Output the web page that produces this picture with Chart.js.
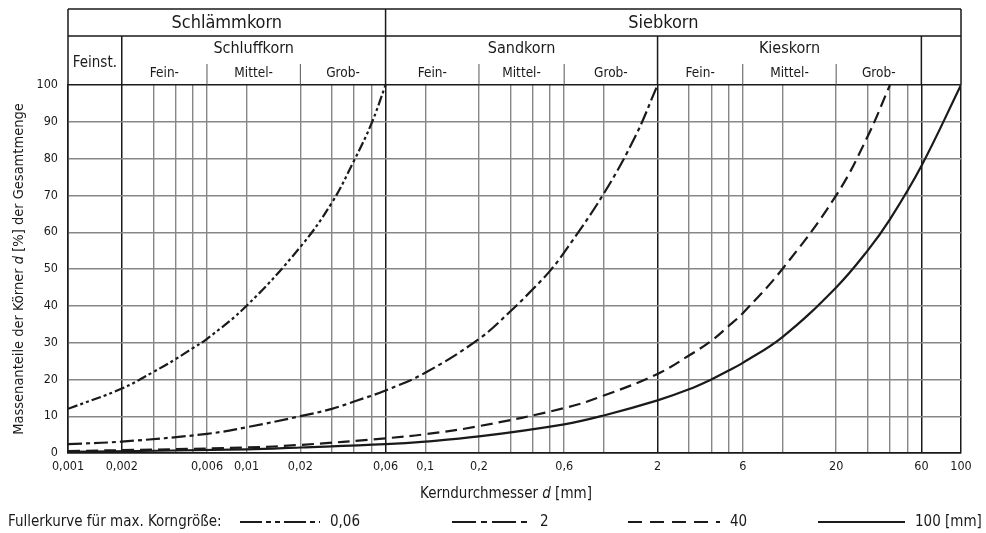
<!DOCTYPE html>
<html lang="de">
<head>
<meta charset="utf-8">
<script src="https://cdn.jsdelivr.net/npm/chart.js@4.4.1/dist/chart.umd.min.js"></script>
<style>
  html, body { margin: 0; padding: 0; background: #fff; }
</style>
</head>
<body>
<canvas id="sieve-chart" width="986" height="533"></canvas>
<script>
// Fullerkurven, Siebdurchgang in % je Korndurchmesser (mm)
const sizes006 = [0.001, 0.002, 0.003, 0.004, 0.005, 0.006, 0.01, 0.02, 0.03, 0.04, 0.05, 0.06];
const fuller006 = [12, 17.5, 22, 25.5, 28.5, 31, 40, 56, 68, 79.5, 89.5, 100];

const sizes2 = [0.001, 0.002, 0.006, 0.01, 0.02, 0.03, 0.04, 0.06, 0.1, 0.2, 0.3, 0.4, 0.5, 0.6, 1, 1.5, 2];
const fuller2 = [2.4, 3.1, 5.2, 7, 10, 12, 14, 17, 21.8, 31, 38.5, 44.5, 49.5, 54.5, 70.5, 86, 100];

const sizes40 = [0.001, 0.01, 0.02, 0.06, 0.1, 0.2, 0.6, 1, 2, 3, 4, 5, 6, 10, 20, 30, 40];
const fuller40 = [0.5, 1.5, 2.2, 4, 5.1, 7.3, 12.2, 15.6, 21.5, 26.5, 30.5, 34.5, 38, 50, 70, 86, 100];

const sizes100 = [0.001, 0.01, 0.02, 0.06, 0.1, 0.2, 0.6, 1, 2, 3, 4, 5, 6, 10, 20, 30, 40, 60, 100];
const fuller100 = [0.3, 1, 1.5, 2.4, 3.1, 4.5, 7.8, 10.2, 14.3, 17.3, 20, 22.4, 24.5, 31.5, 45, 55, 63.5, 78, 100];

// Gitterlinien und Beschriftung der x-Achse
const xGrid = [0.001, 0.002, 0.003, 0.004, 0.005, 0.006, 0.01, 0.02, 0.03, 0.04, 0.05, 0.06,
  0.1, 0.2, 0.3, 0.4, 0.5, 0.6, 1, 2, 3, 4, 5, 6, 10, 20, 30, 40, 50, 60, 100];
const xLabels = [0.001, 0.002, 0.006, 0.01, 0.02, 0.06, 0.1, 0.2, 0.6, 2, 6, 20, 60, 100];
const xMajor = [0.001, 0.002, 0.06, 2, 60, 100];

// Kopfzeile: Kornklassen mit Grenzen
const groups = [
  { name: 'Schlämmkorn', from: 0.001, to: 0.06 },
  { name: 'Siebkorn', from: 0.06, to: 100 }
];
const classes = [
  { name: 'Schluffkorn', from: 0.002, to: 0.06, sub: [0.006, 0.02] },
  { name: 'Sandkorn', from: 0.06, to: 2, sub: [0.2, 0.6] },
  { name: 'Kieskorn', from: 2, to: 60, sub: [6, 20] }
];
const subNames = ['Fein-', 'Mittel-', 'Grob-'];

const legendItems = ['0,06', '2', '40', '100 [mm]'];
const dashes = [[10, 3, 3, 3, 3, 3], [14, 4, 4, 4], [12, 6], []];

const FONT = '"DejaVu Sans Condensed", "Liberation Sans Narrow", "Noto Sans", sans-serif';
const INK = '#1a1a1a';
const GRID = '#878787';

const fmt = v => String(v).replace('.', ',');
const pts = (xs, ys) => xs.map((x, i) => ({ x: x, y: ys[i] }));

const curve = (xs, ys, dash) => ({
  data: pts(xs, ys),
  borderColor: INK,
  borderWidth: 2.2,
  borderDash: dash,
  pointRadius: 0,
  fill: false,
  tension: 0.4
});

// schreibt Text aus Teilen mit eigenem Stil (fuer das kursive d)
function drawParts(ctx, parts, size, cx, cy) {
  let w = 0;
  parts.forEach(p => { ctx.font = p[1] + size + 'px ' + FONT; w += ctx.measureText(p[0]).width; });
  let x = cx - w / 2;
  parts.forEach(p => { ctx.font = p[1] + size + 'px ' + FONT; ctx.fillText(p[0], x, cy); x += ctx.measureText(p[0]).width; });
}

const framePlugin = {
  id: 'frame',
  afterDraw(chart) {
    const { ctx, chartArea: a } = chart;
    const xs = chart.scales.x;
    const px = v => xs.getPixelForValue(v);
    const top = 9, mid = 36, bot = a.top;

    ctx.save();
    ctx.strokeStyle = INK;
    ctx.lineWidth = 1.5;
    ctx.beginPath();
    ctx.moveTo(a.left, top); ctx.lineTo(a.right, top);
    ctx.moveTo(a.left, mid); ctx.lineTo(a.right, mid);
    ctx.moveTo(a.left, top); ctx.lineTo(a.left, bot);
    ctx.moveTo(a.right, top); ctx.lineTo(a.right, bot);
    ctx.moveTo(px(0.06), top); ctx.lineTo(px(0.06), bot);
    [0.002, 2, 60].forEach(v => { ctx.moveTo(px(v), mid); ctx.lineTo(px(v), bot); });
    ctx.stroke();

    // kurze Trennstriche zwischen Fein-/Mittel-/Grob-
    ctx.lineWidth = 1;
    ctx.strokeStyle = '#555';
    ctx.beginPath();
    classes.forEach(c => c.sub.forEach(v => { ctx.moveTo(px(v), 64); ctx.lineTo(px(v), bot); }));
    ctx.stroke();

    ctx.fillStyle = INK;
    ctx.textAlign = 'center';
    ctx.textBaseline = 'middle';
    ctx.font = '18px ' + FONT;
    ctx.fillText(groups[0].name, (px(groups[0].from) + px(groups[0].to)) / 2, 23);
    ctx.fillText(groups[1].name, (px(groups[1].from) + px(groups[1].to)) / 2 - 10, 23);

    ctx.font = '15px ' + FONT;
    ctx.fillText('Feinst.', (px(0.001) + px(0.002)) / 2, 63);
    classes.forEach(c => {
      ctx.font = '16px ' + FONT;
      ctx.fillText(c.name, (px(c.from) + px(c.to)) / 2, 49);
      const edges = [c.from].concat(c.sub, [c.to]);
      ctx.font = '13.5px ' + FONT;
      subNames.forEach((s, i) => ctx.fillText(s, (px(edges[i]) + px(edges[i + 1])) / 2, 73));
    });

    ctx.textAlign = 'left';

    // Achsentitel y
    ctx.save();
    ctx.translate(19, (a.top + a.bottom) / 2);
    ctx.rotate(-Math.PI / 2);
    drawParts(ctx, [['Massenanteile der Körner ', ''], ['d', 'italic '], [' [%] der Gesamtmenge', '']], 14.5, 0, 0);
    ctx.restore();

    // Achsentitel x
    drawParts(ctx, [['Kerndurchmesser ', ''], ['d', 'italic '], [' [mm]', '']], 15, 506, 494);

    // Legende
    const ly = 522;
    ctx.font = '15px ' + FONT;
    ctx.fillText('Fullerkurve für max. Korngröße:', 8, ly);
    const starts = [240, 452, 628, 818];
    const lens = [80, 78, 92, 87];
    const legendDash = [[22, 4, 5, 4, 5, 4], [24, 5, 6, 5], [14, 8], []];
    starts.forEach((s, i) => {
      ctx.save();
      ctx.strokeStyle = INK;
      ctx.lineWidth = 2.2;
      ctx.setLineDash(legendDash[i]);
      ctx.beginPath();
      ctx.moveTo(s, ly); ctx.lineTo(s + lens[i], ly);
      ctx.stroke();
      ctx.restore();
      ctx.fillText(legendItems[i], s + lens[i] + 10, ly);
    });
    ctx.restore();
  }
};

new Chart(document.getElementById('sieve-chart').getContext('2d'), {
  type: 'line',
  data: {
    datasets: [
      curve(sizes006, fuller006, dashes[0]),
      curve(sizes2, fuller2, dashes[1]),
      curve(sizes40, fuller40, dashes[2]),
      curve(sizes100, fuller100, dashes[3])
    ]
  },
  options: {
    responsive: false,
    animation: false,
    events: [],
    layout: { padding: { top: 85, right: 25, left: 0, bottom: 0 } },
    plugins: { legend: { display: false }, tooltip: { enabled: false } },
    scales: {
      x: {
        type: 'logarithmic',
        min: 0.001,
        max: 100,
        afterBuildTicks: s => { s.ticks = xGrid.map(v => ({ value: v })); },
        afterFit: s => { s.height = 80; },
        ticks: {
          autoSkip: false,
          maxRotation: 0,
          padding: 6,
          color: INK,
          font: { family: FONT, size: 12.5 },
          callback: v => xLabels.includes(v) ? fmt(v) : ''
        },
        grid: {
          drawTicks: false,
          color: c => xMajor.includes(c.tick && c.tick.value) ? INK : GRID,
          lineWidth: c => xMajor.includes(c.tick && c.tick.value) ? 1.5 : 1.4
        },
        border: { color: INK, width: 1.5 }
      },
      y: {
        min: 0,
        max: 100,
        afterFit: s => { s.width = 68; },
        ticks: {
          stepSize: 10,
          padding: 10,
          color: INK,
          font: { family: FONT, size: 12.5 }
        },
        grid: {
          drawTicks: false,
          color: c => (c.tick && (c.tick.value === 100 || c.tick.value === 0)) ? INK : GRID,
          lineWidth: c => (c.tick && c.tick.value === 100) ? 1.5 : 1.4
        },
        border: { color: INK, width: 1.5 }
      }
    }
  },
  plugins: [framePlugin]
});
</script>
</body>
</html>
